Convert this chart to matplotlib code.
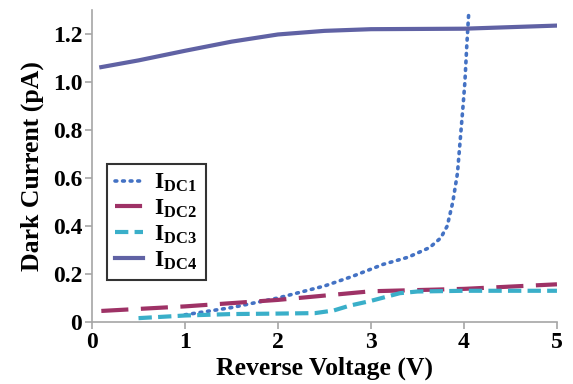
import matplotlib
matplotlib.use("Agg")
import matplotlib.pyplot as plt
from matplotlib.ticker import FixedLocator, FuncFormatter

# Данные
idc1_x = [1.0, 1.5, 2.0, 2.5, 2.8, 3.13, 3.4, 3.63, 3.75, 3.82, 3.88, 3.93, 3.96, 3.99, 4.01, 4.03, 4.05]
idc1_y = [0.03, 0.06, 0.10, 0.15, 0.19, 0.24, 0.27, 0.31, 0.35, 0.40, 0.50, 0.62, 0.76, 0.90, 1.00, 1.15, 1.28]

idc2_x = [0.1, 1.0, 2.0, 3.0, 4.0, 5.0]
idc2_y = [0.046, 0.065, 0.092, 0.128, 0.138, 0.157]

idc3_x = [0.5, 1.0, 1.5, 2.0, 2.4, 2.6, 2.77, 3.0, 3.31, 3.5, 4.0, 5.0]
idc3_y = [0.016, 0.027, 0.033, 0.035, 0.037, 0.048, 0.068, 0.088, 0.12, 0.127, 0.13, 0.13]

idc4_x = [0.1, 0.5, 1.0, 1.5, 2.0, 2.5, 3.0, 4.0, 5.0]
idc4_y = [1.062, 1.09, 1.13, 1.168, 1.198, 1.213, 1.22, 1.222, 1.235]

labels = ["DC1", "DC2", "DC3", "DC4"]
x_ticks = [0, 1, 2, 3, 4, 5]
y_ticks = [0, 0.2, 0.4, 0.6, 0.8, 1.0, 1.2]

plt.rcParams["font.family"] = ["Liberation Serif", "DejaVu Serif"]
plt.rcParams["font.weight"] = "bold"
plt.rcParams["mathtext.fontset"] = "custom"
plt.rcParams["mathtext.rm"] = "Liberation Serif:bold"
plt.rcParams["mathtext.it"] = "Liberation Serif:bold"
plt.rcParams["mathtext.bf"] = "Liberation Serif:bold"

fig = plt.figure(figsize=(5.73, 3.84), dpi=100)
ax = fig.add_axes([0.1606, 0.1615, 0.8114, 0.8125])

ax.plot(idc1_x, idc1_y, color="#4472C4", lw=2.6, linestyle=(0, (0.5, 1.6)),
        dash_capstyle="round", label=r"$\mathrm{I}_{\mathrm{%s}}$" % labels[0])
ax.plot(idc2_x, idc2_y, color="#9E3266", lw=3.0, linestyle=(0, (6.5, 3)),
        label=r"$\mathrm{I}_{\mathrm{%s}}$" % labels[1])
ax.plot(idc3_x, idc3_y, color="#3AAFC9", lw=3.0, linestyle=(0, (3.2, 1.5)),
        label=r"$\mathrm{I}_{\mathrm{%s}}$" % labels[2])
ax.plot(idc4_x, idc4_y, color="#6062A4", lw=3.0,
        label=r"$\mathrm{I}_{\mathrm{%s}}$" % labels[3])

ax.set_xlim(0, 5)
ax.set_ylim(0, 1.3)
ax.xaxis.set_major_locator(FixedLocator(x_ticks))
ax.yaxis.set_major_locator(FixedLocator(y_ticks))
ax.yaxis.set_major_formatter(FuncFormatter(lambda v, p: "0" if v == 0 else "%.1f" % v))

for s in ["top", "right"]:
    ax.spines[s].set_visible(False)
for s in ["left", "bottom"]:
    ax.spines[s].set_color("#A6A6A6")
    ax.spines[s].set_linewidth(1.2)
ax.tick_params(direction="out", length=5, width=1.2, color="#A6A6A6",
               labelsize=17, pad=2)

ax.set_xlabel("Reverse Voltage (V)", fontsize=18.5, fontweight="bold", labelpad=3)
ax.set_ylabel("Dark Current (pA)", fontsize=18.5, fontweight="bold", labelpad=6)

leg = ax.legend(loc="lower left", bbox_to_anchor=(0.032, 0.135), fontsize=17,
                frameon=True, fancybox=False, handlelength=1.2,
                labelspacing=0.15, borderpad=0.35, handletextpad=0.45,
                borderaxespad=0)
leg.get_frame().set_edgecolor("black")
leg.get_frame().set_linewidth(1.5)

fig.savefig("out.png", dpi=100)
